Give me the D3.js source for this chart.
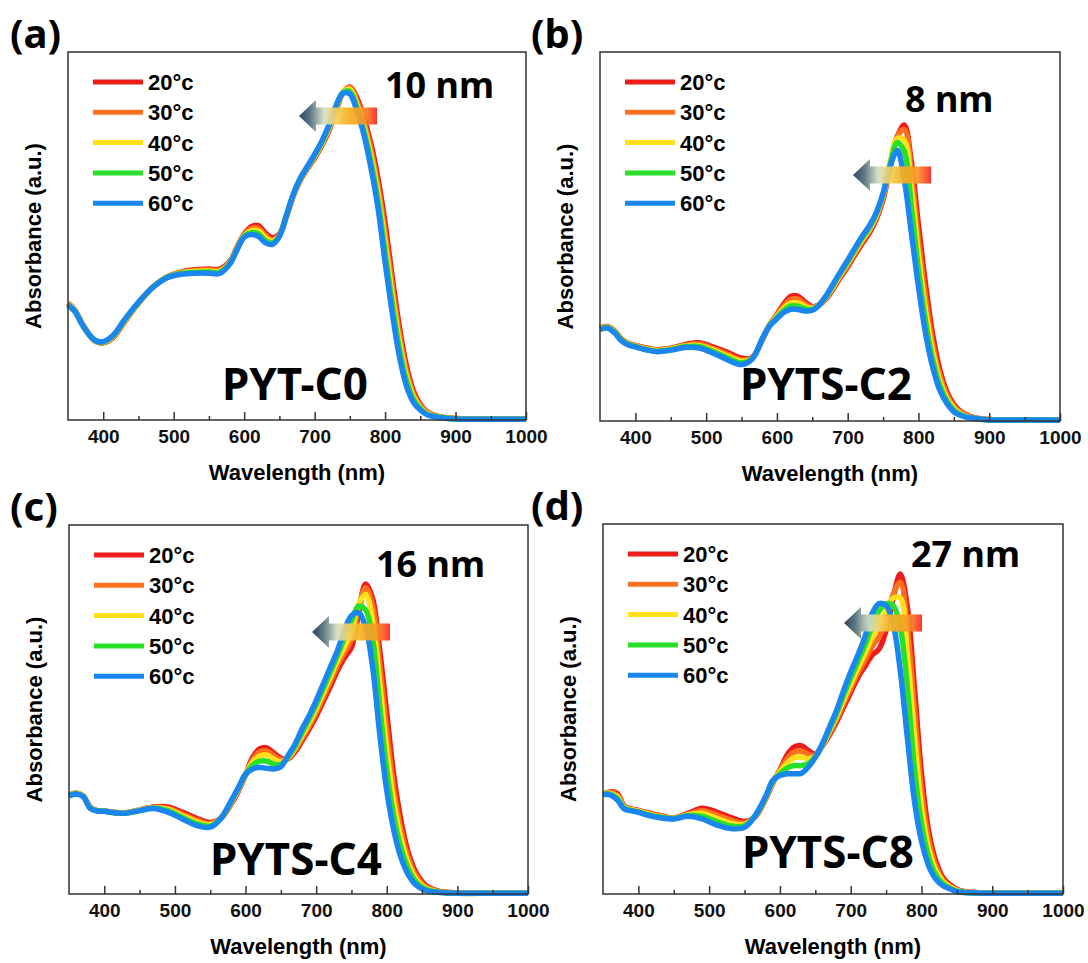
<!DOCTYPE html>
<html>
<head>
<meta charset="utf-8">
<script src="https://cdn.jsdelivr.net/npm/d3@7"></script>
<style>
  body { margin: 0; background: #fff; }
  svg { display: block; }
  .tick text { font-family: "Liberation Sans", Arial, sans-serif; font-weight: bold; font-size: 19px; fill: #111; }
  .tick line { stroke: #333; stroke-width: 1.5; }
</style>
</head>
<body>
<svg id="chart" width="1088" height="963"></svg>
<script>
// wavelength grid shared by every spectrum (nm)
const wavelengths = [350,360,370,380,390,400,415,430,450,470,490,510,530,550,565,580,590,600,610,620,630,640,650,660,670,680,690,700,710,720,730,740,750,760,770,780,790,800,810,820,830,840,850,860,875,900,950,1000];

const temps = ["20°c", "30°c", "40°c", "50°c", "60°c"];
const tempColors = ["#ee1c1c", "#ff6f1e", "#ffe01a", "#28e028", "#1a86f0"];

const majorTicks = [400, 500, 600, 700, 800, 900, 1000];
const minorTicks = [450, 550, 650, 750, 850, 950];

const samples = ["PYT-C0", "PYTS-C2", "PYTS-C4", "PYTS-C8"];
const shifts = ["10 nm", "8 nm", "16 nm", "27 nm"];
const panelTags = ["(a)", "(b)", "(c)", "(d)"];

// normalised absorbance, one row per temperature (20,30,40,50,60 °C)
const absC0 = [
  [.318,.298,.262,.232,.213,.210,.226,.266,.317,.360,.388,.402,.408,.410,.410,.432,.470,.505,.525,.528,.508,.495,.505,.553,.610,.652,.684,.712,.745,.785,.838,.888,.905,.875,.820,.750,.655,.535,.390,.256,.150,.080,.042,.022,.010,.004,.002,.002],
  [.317,.297,.262,.232,.213,.211,.228,.268,.318,.360,.388,.401,.406,.408,.407,.430,.468,.503,.520,.521,.502,.490,.503,.554,.611,.654,.686,.715,.748,.789,.842,.890,.903,.867,.809,.734,.635,.509,.366,.236,.136,.072,.038,.020,.009,.004,.002,.002],
  [.316,.296,.261,.232,.214,.211,.229,.269,.318,.360,.387,.399,.404,.405,.404,.428,.466,.501,.514,.514,.495,.486,.502,.555,.613,.655,.687,.717,.751,.793,.845,.890,.899,.858,.798,.718,.615,.483,.342,.216,.122,.064,.034,.018,.008,.003,.002,.002],
  [.314,.295,.260,.232,.214,.212,.231,.271,.319,.360,.387,.398,.401,.402,.401,.427,.465,.499,.509,.506,.488,.481,.500,.556,.614,.657,.689,.720,.754,.797,.849,.889,.893,.849,.786,.701,.596,.456,.318,.196,.109,.057,.031,.016,.008,.003,.002,.002],
  [.313,.294,.260,.232,.215,.213,.232,.272,.320,.360,.386,.396,.399,.399,.398,.425,.463,.497,.504,.499,.482,.477,.499,.556,.615,.658,.690,.722,.757,.800,.852,.888,.886,.840,.775,.685,.576,.430,.294,.176,.095,.049,.027,.014,.007,.003,.002,.002]
];
const absC2 = [
  [.252,.256,.245,.223,.210,.205,.198,.193,.197,.207,.212,.200,.186,.170,.172,.222,.262,.288,.318,.338,.338,.322,.310,.315,.333,.360,.390,.418,.450,.480,.508,.545,.600,.690,.770,.802,.700,.530,.370,.235,.140,.080,.045,.025,.011,.004,.003,.002],
  [.251,.255,.244,.222,.209,.204,.197,.192,.196,.205,.209,.196,.181,.166,.171,.223,.262,.286,.312,.330,.330,.316,.308,.315,.335,.363,.394,.423,.455,.485,.513,.550,.607,.694,.772,.790,.670,.490,.335,.210,.125,.071,.040,.022,.010,.004,.003,.002],
  [.250,.254,.243,.221,.208,.203,.195,.191,.195,.203,.205,.192,.176,.162,.170,.224,.261,.283,.306,.320,.320,.310,.305,.315,.337,.366,.398,.428,.459,.490,.518,.555,.612,.696,.766,.760,.630,.450,.300,.188,.110,.062,.035,.019,.009,.004,.003,.002],
  [.249,.253,.242,.220,.207,.202,.194,.189,.193,.201,.202,.188,.171,.157,.169,.225,.260,.280,.300,.312,.311,.304,.302,.315,.339,.370,.402,.432,.464,.495,.523,.560,.616,.697,.755,.730,.580,.410,.270,.167,.097,.055,.030,.017,.008,.003,.003,.002],
  [.248,.252,.240,.218,.206,.201,.193,.188,.192,.199,.198,.184,.166,.153,.168,.226,.258,.277,.295,.303,.302,.298,.300,.315,.341,.373,.405,.436,.468,.499,.527,.563,.617,.689,.734,.653,.509,.364,.238,.147,.084,.048,.025,.015,.008,.003,.003,.002]
];
const absC4 = [
  [.268,.274,.266,.236,.226,.225,.221,.220,.228,.236,.236,.222,.206,.194,.205,.245,.280,.322,.370,.393,.396,.382,.368,.366,.385,.415,.447,.482,.522,.562,.605,.640,.668,.759,.840,.800,.660,.490,.320,.200,.115,.063,.033,.017,.007,.003,.002,.002],
  [.268,.273,.266,.235,.226,.225,.221,.220,.227,.235,.232,.217,.201,.191,.205,.248,.283,.323,.364,.385,.388,.375,.364,.367,.390,.422,.455,.492,.533,.575,.618,.655,.690,.772,.830,.780,.620,.440,.283,.175,.100,.054,.028,.014,.006,.003,.002,.002],
  [.267,.273,.265,.234,.225,.224,.220,.220,.227,.234,.229,.213,.196,.188,.205,.250,.285,.324,.357,.374,.377,.365,.358,.369,.395,.430,.464,.502,.545,.588,.632,.670,.712,.785,.812,.740,.570,.390,.248,.150,.085,.045,.023,.012,.005,.002,.002,.002],
  [.267,.272,.265,.233,.225,.224,.220,.219,.226,.233,.226,.208,.191,.184,.205,.252,.287,.324,.349,.360,.360,.352,.351,.371,.400,.438,.474,.513,.557,.601,.646,.693,.740,.780,.770,.690,.510,.335,.210,.125,.070,.036,.018,.010,.005,.002,.002,.002],
  [.266,.271,.264,.232,.225,.224,.220,.219,.226,.232,.222,.204,.186,.181,.205,.254,.289,.325,.339,.343,.341,.339,.345,.375,.406,.447,.483,.524,.569,.614,.659,.714,.754,.762,.723,.614,.434,.280,.172,.099,.054,.027,.014,.007,.004,.002,.002,.002]
];
const absC8 = [
  [.270,.276,.272,.238,.230,.226,.219,.212,.205,.218,.232,.222,.207,.196,.208,.258,.300,.335,.375,.397,.401,.388,.378,.400,.430,.465,.505,.545,.585,.615,.645,.662,.712,.800,.865,.775,.559,.325,.171,.090,.045,.025,.013,.007,.004,.002,.002,.002],
  [.270,.274,.268,.236,.229,.225,.217,.211,.205,.216,.225,.214,.200,.192,.209,.259,.302,.333,.365,.383,.386,.378,.375,.401,.435,.472,.515,.556,.597,.632,.668,.695,.738,.810,.842,.720,.500,.280,.148,.077,.039,.022,.011,.006,.004,.002,.002,.002],
  [.270,.272,.263,.234,.228,.224,.216,.209,.204,.214,.218,.205,.192,.188,.210,.261,.304,.330,.353,.368,.370,.366,.372,.402,.440,.480,.525,.568,.610,.650,.692,.728,.765,.800,.800,.650,.430,.235,.124,.065,.034,.019,.010,.005,.003,.002,.002,.002],
  [.269,.270,.259,.232,.226,.222,.214,.208,.204,.212,.210,.196,.184,.184,.211,.262,.305,.325,.340,.347,.347,.352,.370,.404,.445,.488,.538,.584,.628,.672,.722,.765,.785,.780,.720,.560,.340,.190,.100,.053,.028,.016,.008,.005,.003,.002,.002,.002],
  [.269,.268,.255,.230,.225,.221,.212,.206,.203,.210,.203,.187,.177,.180,.212,.264,.307,.320,.325,.325,.326,.343,.370,.406,.451,.496,.550,.600,.645,.694,.757,.785,.780,.730,.604,.424,.252,.144,.077,.041,.023,.014,.007,.004,.003,.002,.002,.002]
];

// panel frames and annotation offsets (pixels)
const panels = [
  { L: 68,  R: 526,  T: 52,  B: 420, data: absC0, tagX: 10,  shiftDx: 317, shiftDy: 46, nameDx: 154, nameDy: -20, arrowDx: 231, arrowDy: 64 },
  { L: 600, R: 1060, T: 52,  B: 421, data: absC2, tagX: 531, shiftDx: 305, shiftDy: 60, nameDx: 140, nameDy: -21, arrowDx: 253, arrowDy: 123 },
  { L: 69,  R: 528,  T: 525, B: 894, data: absC4, tagX: 10,  shiftDx: 307, shiftDy: 52, nameDx: 141, nameDy: -19, arrowDx: 243, arrowDy: 107 },
  { L: 603, R: 1063, T: 524, B: 894, data: absC8, tagX: 531, shiftDx: 308, shiftDy: 43, nameDx: 139, nameDy: -26, arrowDx: 241, arrowDy: 99 }
];

const svg = d3.select("#chart");
const sansBold = '"Liberation Sans", Arial, sans-serif';
const notoBold = '"Noto Sans", "DejaVu Sans", sans-serif';

// gradient for the shift arrows
const grad = svg.append("defs").append("linearGradient")
  .attr("id", "arrowGrad")
  .attr("x1", "0%").attr("x2", "100%").attr("y1", "0%").attr("y2", "0%");
[["0%", "#1d3450"], ["14%", "#4f6a78"], ["32%", "#d3dec4"], ["48%", "#f5cf5a"], ["62%", "#f6b21c"], ["82%", "#f79a28"], ["100%", "#fd2222"]]
  .forEach(s => grad.append("stop").attr("offset", s[0]).attr("stop-color", s[1]));

panels.forEach((p, i) => {
  const x = d3.scaleLinear().domain([350, 1000]).range([p.L, p.R]);
  const y = d3.scaleLinear().domain([0, 1]).range([p.B, p.T]);
  const g = svg.append("g");

  // spectra, red first so blue ends on top
  const line = d3.line()
    .x((d, k) => x(wavelengths[k]))
    .y(d => y(d))
    .curve(d3.curveCatmullRom.alpha(0.5));

  g.selectAll("path.spec")
    .data(p.data)
    .join("path")
    .attr("class", "spec")
    .attr("d", line)
    .attr("fill", "none")
    .attr("stroke", (d, k) => tempColors[k])
    .attr("stroke-width", 5.5)
    .attr("stroke-linejoin", "round");

  // frame
  g.append("rect")
    .attr("x", p.L).attr("y", p.T)
    .attr("width", p.R - p.L).attr("height", p.B - p.T)
    .attr("fill", "none").attr("stroke", "#333").attr("stroke-width", 1.5);

  // x axis, ticks pointing inward
  const ax = g.append("g").attr("transform", `translate(0,${p.B})`)
    .call(d3.axisBottom(x).tickValues(majorTicks).tickSizeInner(-8).tickSizeOuter(0).tickPadding(10).tickFormat(d3.format("d")));
  ax.select(".domain").remove();
  const mx = g.append("g").attr("transform", `translate(0,${p.B})`)
    .call(d3.axisBottom(x).tickValues(minorTicks).tickSizeInner(-4).tickSizeOuter(0).tickFormat(""));
  mx.select(".domain").remove();

  g.append("text")
    .attr("x", (p.L + p.R) / 2).attr("y", p.B + 60)
    .attr("text-anchor", "middle")
    .style("font-family", sansBold).style("font-weight", "bold").style("font-size", "22px")
    .text("Wavelength (nm)");

  g.append("text")
    .attr("transform", `translate(${p.L - 27},${(p.T + p.B) / 2}) rotate(-90)`)
    .attr("text-anchor", "middle")
    .style("font-family", sansBold).style("font-weight", "bold").style("font-size", "22px")
    .text("Absorbance (a.u.)");

  // legend
  temps.forEach((t, k) => {
    const ly = p.T + 30 + k * 30.3;
    g.append("line")
      .attr("x1", p.L + 25).attr("x2", p.L + 75).attr("y1", ly).attr("y2", ly)
      .attr("stroke", tempColors[k]).attr("stroke-width", 5);
    g.append("text")
      .attr("x", p.L + 80).attr("y", ly).attr("dy", "0.36em")
      .style("font-family", sansBold).style("font-weight", "bold").style("font-size", "22px")
      .text(t);
  });

  // shift arrow
  g.append("path")
    .attr("transform", `translate(${p.L + p.arrowDx},${p.T + p.arrowDy})`)
    .attr("d", "M0,0 L17,-16 L17,-8.5 L78,-8.5 L78,8.5 L17,8.5 L17,16 Z")
    .attr("fill", "url(#arrowGrad)")
    .attr("opacity", 0.92);

  g.append("text")
    .attr("x", p.L + p.shiftDx).attr("y", p.T + p.shiftDy)
    .style("font-family", notoBold).style("font-weight", "bold").style("font-size", "36px")
    .text(shifts[i]);

  g.append("text")
    .attr("x", p.L + p.nameDx).attr("y", p.B + p.nameDy)
    .style("font-family", notoBold).style("font-weight", "bold").style("font-size", "44px")
    .text(samples[i]);

  g.append("text")
    .attr("x", p.tagX).attr("y", p.T - 4)
    .style("font-family", notoBold).style("font-weight", "bold").style("font-size", "40px")
    .text(panelTags[i]);
});
</script>
</body>
</html>
